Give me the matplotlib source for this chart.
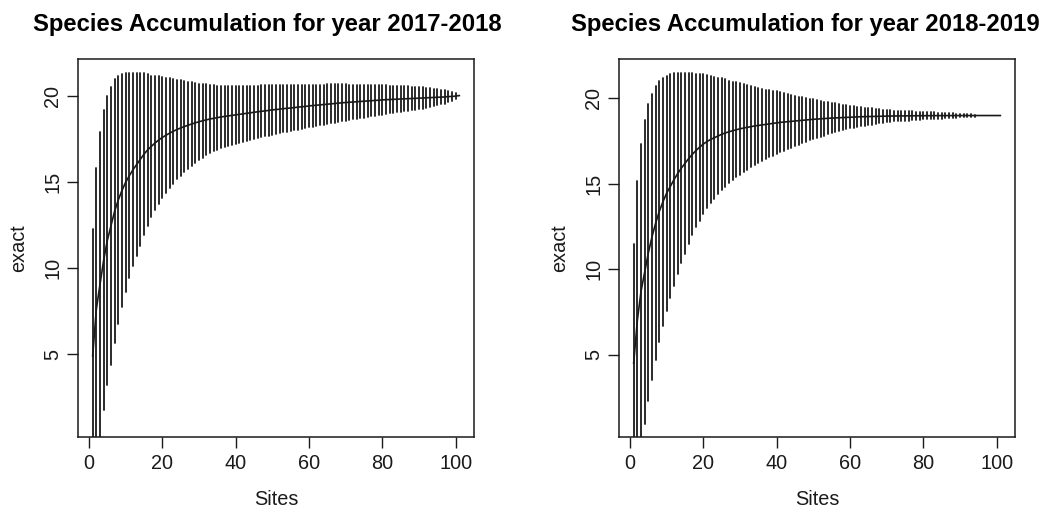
import numpy as np
import matplotlib
matplotlib.use("Agg")
import matplotlib.pyplot as plt

plt.rcParams["font.family"] = ["Liberation Sans", "DejaVu Sans"]

# sites 1..101
sites = np.arange(1, 102)

# 2017-2018: mean richness and sd per site
mean_1718 = [
    4.9, 7.6, 9.05, 10.45, 11.6, 12.45, 13.3, 13.95, 14.5, 14.97,
    15.35, 15.7, 16.0, 16.3, 16.6, 16.85, 17.05, 17.25, 17.42, 17.57,
    17.7, 17.82, 17.93, 18.03, 18.12, 18.2, 18.28, 18.35, 18.42, 18.48,
    18.54, 18.59, 18.64, 18.68, 18.72, 18.76, 18.79, 18.82, 18.85, 18.88,
    18.91, 18.94, 18.97, 19.0, 19.03, 19.06, 19.09, 19.11, 19.14, 19.17,
    19.19, 19.21, 19.24, 19.26, 19.28, 19.3, 19.33, 19.35, 19.37, 19.4,
    19.42, 19.44, 19.46, 19.48, 19.5, 19.52, 19.54, 19.56, 19.58, 19.6,
    19.61, 19.63, 19.64, 19.66, 19.67, 19.69, 19.7, 19.72, 19.73, 19.75,
    19.76, 19.77, 19.78, 19.79, 19.8, 19.81, 19.82, 19.83, 19.84, 19.85,
    19.86, 19.87, 19.88, 19.89, 19.9, 19.91, 19.92, 19.94, 19.95, 19.97,
    20.0,
]
sd_1718 = [
    3.69, 4.1, 4.43, 4.36, 4.2, 4.03, 3.83, 3.6, 3.37, 3.17,
    2.98, 2.8, 2.65, 2.5, 2.35, 2.2, 2.05, 1.95, 1.85, 1.75,
    1.67, 1.59, 1.52, 1.45, 1.38, 1.32, 1.26, 1.21, 1.16, 1.11,
    1.07, 1.03, 0.99, 0.96, 0.93, 0.91, 0.89, 0.87, 0.85, 0.84,
    0.83, 0.81, 0.8, 0.79, 0.77, 0.76, 0.75, 0.74, 0.73, 0.72,
    0.71, 0.7, 0.69, 0.68, 0.67, 0.66, 0.65, 0.64, 0.63, 0.62,
    0.61, 0.6, 0.59, 0.58, 0.575, 0.565, 0.555, 0.545, 0.535, 0.525,
    0.515, 0.505, 0.495, 0.485, 0.475, 0.465, 0.455, 0.445, 0.435, 0.425,
    0.415, 0.405, 0.395, 0.385, 0.375, 0.365, 0.355, 0.345, 0.335, 0.325,
    0.31, 0.29, 0.27, 0.25, 0.23, 0.21, 0.19, 0.16, 0.13, 0.09,
    0.0,
]

# 2018-2019
mean_1819 = [
    4.5, 7.0, 8.7, 9.83, 10.96, 11.9, 12.7, 13.4, 13.96, 14.46,
    14.85, 15.25, 15.6, 15.92, 16.2, 16.48, 16.73, 16.95, 17.15, 17.33,
    17.48, 17.6, 17.7, 17.8, 17.9, 17.98, 18.05, 18.11, 18.17, 18.22,
    18.27, 18.31, 18.35, 18.39, 18.42, 18.45, 18.48, 18.51, 18.54, 18.57,
    18.6, 18.62, 18.64, 18.66, 18.68, 18.7, 18.72, 18.74, 18.76, 18.78,
    18.79, 18.81, 18.82, 18.84, 18.85, 18.86, 18.87, 18.88, 18.89, 18.9,
    18.91, 18.92, 18.93, 18.935, 18.94, 18.945, 18.95, 18.955, 18.96, 18.965,
    18.97, 18.972, 18.975, 18.977, 18.98, 18.982, 18.984, 18.986, 18.988, 18.99,
    18.991, 18.992, 18.993, 18.994, 18.995, 18.996, 18.997, 18.997, 18.998, 18.998,
    18.999, 18.999, 18.999, 19.0, 19.0, 19.0, 19.0, 19.0, 19.0, 19.0,
    19.0,
]
sd_1819 = [
    3.5, 4.09, 4.33, 4.44, 4.35, 4.18, 4.0, 3.82, 3.63, 3.44,
    3.28, 3.12, 2.94, 2.78, 2.64, 2.5, 2.37, 2.25, 2.15, 2.05,
    1.95, 1.86, 1.78, 1.71, 1.64, 1.57, 1.5, 1.44, 1.39, 1.34,
    1.29, 1.24, 1.19, 1.14, 1.09, 1.05, 1.01, 0.98, 0.95, 0.92,
    0.88, 0.84, 0.8, 0.77, 0.73, 0.7, 0.67, 0.64, 0.61, 0.58,
    0.55, 0.525, 0.5, 0.475, 0.45, 0.425, 0.4, 0.375, 0.35, 0.325,
    0.31, 0.295, 0.28, 0.265, 0.25, 0.235, 0.22, 0.205, 0.19, 0.18,
    0.17, 0.16, 0.155, 0.15, 0.145, 0.14, 0.13, 0.12, 0.115, 0.11,
    0.105, 0.1, 0.095, 0.09, 0.085, 0.08, 0.07, 0.065, 0.06, 0.055,
    0.05, 0.045, 0.04, 0.03, 0.0, 0.0, 0.0, 0.0, 0.0, 0.0,
    0.0,
]

panels = [
    ("Species Accumulation for year 2017-2018", mean_1718, sd_1718),
    ("Species Accumulation for year 2018-2019", mean_1819, sd_1819),
]

W, H = 1040, 511
fig = plt.figure(figsize=(W / 100, H / 100), dpi=100)
fig.patch.set_facecolor("white")

ax_left_px = [78, 619]
title_cx = [267.5, 805]
ink = "#1a1a1a"
fs = 14.3

for i, (title, mean, sd) in enumerate(panels):
    mean = np.asarray(mean)
    sd = np.asarray(sd)
    ax = fig.add_axes([ax_left_px[i] / W, (H - 437) / H, 396 / W, 378 / H])

    # bars = mean +/- 2 sd, like vegan's plot.specaccum
    ax.vlines(sites, mean - 2 * sd, mean + 2 * sd, colors=ink,
              linewidth=1.3, capstyle="round")
    ax.plot(sites, mean, color=ink, linewidth=1.2)

    top = max(mean + 2 * sd)
    span = top - 1
    ax.set_ylim(1 - 0.04 * span, top + 0.04 * span)
    ax.set_xlim(1 - 0.04 * 100, 101 + 0.04 * 100)

    ax.set_xticks([0, 20, 40, 60, 80, 100])
    ax.set_yticks([5, 10, 15, 20])
    ax.tick_params(direction="out", length=7.7, width=1.0, colors=ink,
                   labelsize=fs)
    ax.tick_params(axis="x", pad=4.5)
    ax.tick_params(axis="y", pad=3.5)
    for lab in ax.get_yticklabels():
        lab.set_rotation(90)
        lab.set_va("center")
    for sp in ax.spines.values():
        sp.set_linewidth(1.1)
        sp.set_color(ink)

    ax.set_xlabel("Sites", fontsize=fs, color=ink, labelpad=12)
    ax.set_ylabel("exact", fontsize=fs, color=ink, labelpad=11)

    fig.text(title_cx[i] / W, 1 - 31 / H, title, ha="center",
             va="baseline", fontsize=17.2, fontweight="bold", color="black")

fig.savefig("out.png", dpi=100)
